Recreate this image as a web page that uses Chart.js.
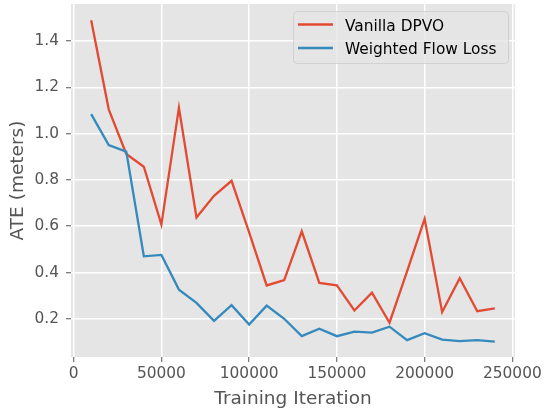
<!DOCTYPE html>
<html>
<head>
<meta charset="utf-8">
<script src="https://cdn.jsdelivr.net/npm/chart.js@4/dist/chart.umd.min.js"></script>
<style>
  html, body { margin: 0; padding: 0; background: #ffffff; }
  #wrap { width: 544px; height: 412px; position: relative; }
</style>
</head>
<body>
<div id="wrap"><canvas id="c" width="544" height="412"></canvas></div>
<script>
const iterations = [10000, 20000, 30000, 40000, 50000, 60000, 70000, 80000, 90000, 100000,
  110000, 120000, 130000, 140000, 150000, 160000, 170000, 180000, 190000, 200000,
  210000, 220000, 230000, 240000];
const vanillaDPVO = [1.49, 1.105, 0.912, 0.857, 0.607, 1.112, 0.638, 0.731, 0.796, 0.573,
  0.344, 0.367, 0.578, 0.355, 0.345, 0.236, 0.313, 0.183, 0.405, 0.632,
  0.229, 0.375, 0.233, 0.245];
const weightedFlowLoss = [1.084, 0.951, 0.922, 0.470, 0.476, 0.326, 0.269, 0.191, 0.259, 0.175,
  0.257, 0.200, 0.125, 0.157, 0.125, 0.145, 0.140, 0.166, 0.108, 0.138,
  0.110, 0.104, 0.108, 0.101];
const xTicks = [0, 50000, 100000, 150000, 200000, 250000];
const yTicks = [0.2, 0.4, 0.6, 0.8, 1.0, 1.2, 1.4];
const seriesNames = ['Vanilla DPVO', 'Weighted Flow Loss'];

const RED = '#E24A33', BLUE = '#348ABD', TXT = '#555555';
const FONT = "'DejaVu Sans', sans-serif";

const bgPlugin = {
  id: 'bg',
  beforeDraw(chart) {
    const {ctx, chartArea: a} = chart;
    ctx.save();
    ctx.fillStyle = '#E5E5E5';
    ctx.fillRect(a.left, a.top, a.right - a.left, a.bottom - a.top);
    ctx.restore();
  }
};

const legendPlugin = {
  id: 'mplLegend',
  afterDatasetsDraw(chart) {
    const ctx = chart.ctx;
    const x0 = 293.5, y0 = 11.5, w = 215, h = 52, r = 4;
    ctx.save();
    ctx.beginPath();
    ctx.roundRect(x0, y0, w, h, r);
    ctx.fillStyle = 'rgba(229,229,229,0.8)';
    ctx.fill();
    ctx.lineWidth = 1;
    ctx.strokeStyle = 'rgba(204,204,204,0.8)';
    ctx.stroke();
    const rows = [24.5, 48];
    const base = [30.7, 54.3];
    chart.data.datasets.forEach((ds, i) => {
      ctx.beginPath();
      ctx.strokeStyle = ds.borderColor;
      ctx.lineWidth = 2.3;
      ctx.moveTo(298, rows[i]);
      ctx.lineTo(333, rows[i]);
      ctx.stroke();
      ctx.fillStyle = '#000000';
      ctx.font = "15.4px " + FONT;
      ctx.textBaseline = 'alphabetic';
      ctx.textAlign = 'left';
      ctx.fillText(ds.label, 345, base[i]);
    });
    ctx.restore();
  }
};

new Chart(document.getElementById('c'), {
  type: 'line',
  data: {
    datasets: [
      { label: seriesNames[0], data: iterations.map((x, i) => ({x, y: vanillaDPVO[i]})),
        borderColor: RED, backgroundColor: RED, borderWidth: 2.3, pointRadius: 0, tension: 0, order: 1 },
      { label: seriesNames[1], data: iterations.map((x, i) => ({x, y: weightedFlowLoss[i]})),
        borderColor: BLUE, backgroundColor: BLUE, borderWidth: 2.3, pointRadius: 0, tension: 0, order: 0 }
    ]
  },
  options: {
    responsive: false,
    animation: false,
    devicePixelRatio: 1,
    layout: { padding: { top: 4, right: 29, left: 0, bottom: 0 } },
    plugins: { legend: { display: false }, tooltip: { enabled: false } },
    scales: {
      x: {
        type: 'linear',
        min: -1500, max: 251500,
        afterBuildTicks: s => { s.ticks = xTicks.map(v => ({value: v})); },
        afterFit: s => { s.height = 55; s.paddingLeft = 0; s.paddingRight = 0; },
        border: { display: false },
        grid: { color: '#ffffff', lineWidth: 1.5, tickColor: TXT, tickLength: 5, tickWidth: 1 },
        ticks: { color: TXT, font: { family: FONT, size: 15.4 }, padding: 3, maxRotation: 0,
                 callback: v => String(v) },
        title: { display: true, text: 'Training Iteration', color: TXT,
                 font: { family: FONT, size: 18.5 }, padding: { top: 0, bottom: 2 } }
      },
      y: {
        type: 'linear',
        min: 0.035, max: 1.56,
        afterBuildTicks: s => { s.ticks = yTicks.map(v => ({value: v})); },
        afterFit: s => { s.width = 71; s.paddingTop = 0; s.paddingBottom = 0; },
        border: { display: false },
        grid: { color: '#ffffff', lineWidth: 1.5, tickColor: TXT, tickLength: 5, tickWidth: 1 },
        ticks: { color: TXT, font: { family: FONT, size: 15.4 }, padding: 7,
                 callback: v => Number(v).toFixed(1) },
        title: { display: true, text: 'ATE (meters)', color: TXT,
                 font: { family: FONT, size: 18.5 }, padding: { top: 7, bottom: 0 } }
      }
    }
  },
  plugins: [bgPlugin, legendPlugin]
});
</script>
</body>
</html>
